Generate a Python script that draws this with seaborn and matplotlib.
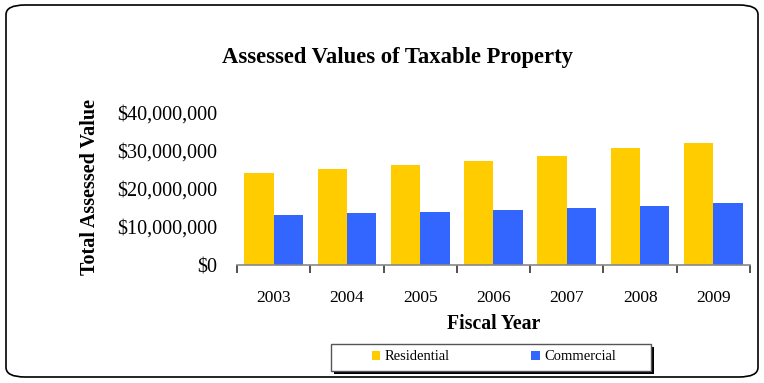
import matplotlib
matplotlib.use("Agg")
import matplotlib.pyplot as plt
from matplotlib.patches import FancyBboxPatch, Rectangle, Patch
from matplotlib.ticker import FuncFormatter, FixedLocator
import seaborn as sns
import pandas as pd

years = ["2003", "2004", "2005", "2006", "2007", "2008", "2009"]
residential = [24.2e6, 25.3e6, 26.3e6, 27.4e6, 28.7e6, 30.8e6, 32.1e6]
commercial = [13.2e6, 13.7e6, 13.9e6, 14.5e6, 15.0e6, 15.5e6, 16.3e6]
series_names = ["Residential", "Commercial"]
colors = ["#FFCC00", "#3366FF"]

df = pd.DataFrame({
    "Year": years * 2,
    "Value": residential + commercial,
    "Series": [series_names[0]] * len(years) + [series_names[1]] * len(years),
})

sns.set_theme(style="white")
plt.rcParams["font.family"] = ["Liberation Serif", "DejaVu Serif"]
plt.rcParams["text.color"] = "black"
plt.rcParams["axes.labelcolor"] = "black"
plt.rcParams["xtick.color"] = "black"
plt.rcParams["ytick.color"] = "black"

fig = plt.figure(figsize=(7.64, 3.83), dpi=100)
ax = fig.add_axes([237/764, 1-265/383, (750-237)/764, (265-113)/383])

sns.barplot(data=df, x="Year", y="Value", hue="Series", palette=colors,
            width=0.8, saturation=1, ax=ax, legend=False, linewidth=0)

ax.set_ylim(0, 40e6)
ax.set_xlim(-0.5, 6.5)
ax.set_yticks([0, 10e6, 20e6, 30e6, 40e6])
ax.yaxis.set_major_formatter(FuncFormatter(lambda v, p: f"${v:,.0f}"))
ax.tick_params(axis="y", length=0, labelsize=14.5, pad=14)
ax.tick_params(axis="x", which="major", length=0, labelsize=12.5, pad=18)
ax.xaxis.set_minor_locator(FixedLocator([i - 0.5 for i in range(len(years) + 1)]))
ax.tick_params(axis="x", which="minor", length=6, width=1.2, color="#333333", direction="out", bottom=True)
for s in ["top", "right", "left"]:
    ax.spines[s].set_visible(False)
ax.spines["bottom"].set_color("#888888")
ax.spines["bottom"].set_linewidth(1.2)

ax.set_xlabel("Fiscal Year", fontsize=14.2, fontweight="bold")
ax.xaxis.set_label_coords(0.5, -(324 - 265) / 152, transform=ax.transAxes)
ax.xaxis.label.set_va("center")
ax.set_ylabel("Total Assessed Value", fontsize=14.5, fontweight="bold")
ax.yaxis.set_label_coords(-(237 - 90) / 513, (265 - 187) / 152)
ax.yaxis.label.set_va("center")

fig.text(397/764, 1-57/383, "Assessed Values of Taxable Property", ha="center", va="center",
         fontsize=16.3, fontweight="bold")

# legend box with shadow
bx, by, bw, bh = 331/764, 1-371/383, 320/764, 27/383
fig.patches.append(Rectangle((bx + 3/764, by - 3/383), bw, bh, transform=fig.transFigure,
                             facecolor="black", edgecolor="none"))
fig.patches.append(Rectangle((bx, by), bw, bh, transform=fig.transFigure,
                             facecolor="white", edgecolor="#555555", linewidth=1))
handles = [Patch(facecolor=c, edgecolor="none") for c in colors]
leg = fig.legend(handles, series_names, loc="center", ncol=2,
                 bbox_to_anchor=(494/764, 1-357/383),
                 frameon=False, fontsize=10.5, handlelength=0.6, handleheight=0.6,
                 handletextpad=0.3, columnspacing=5.6, borderpad=0, borderaxespad=0)

frame = FancyBboxPatch((6/764, 6/383), 752/764, 372/383,
                       boxstyle="round,pad=0,rounding_size=0.025",
                       transform=fig.transFigure, facecolor="none", edgecolor="black",
                       linewidth=1.2)
fig.patches.append(frame)

fig.savefig("out.png", dpi=100)
